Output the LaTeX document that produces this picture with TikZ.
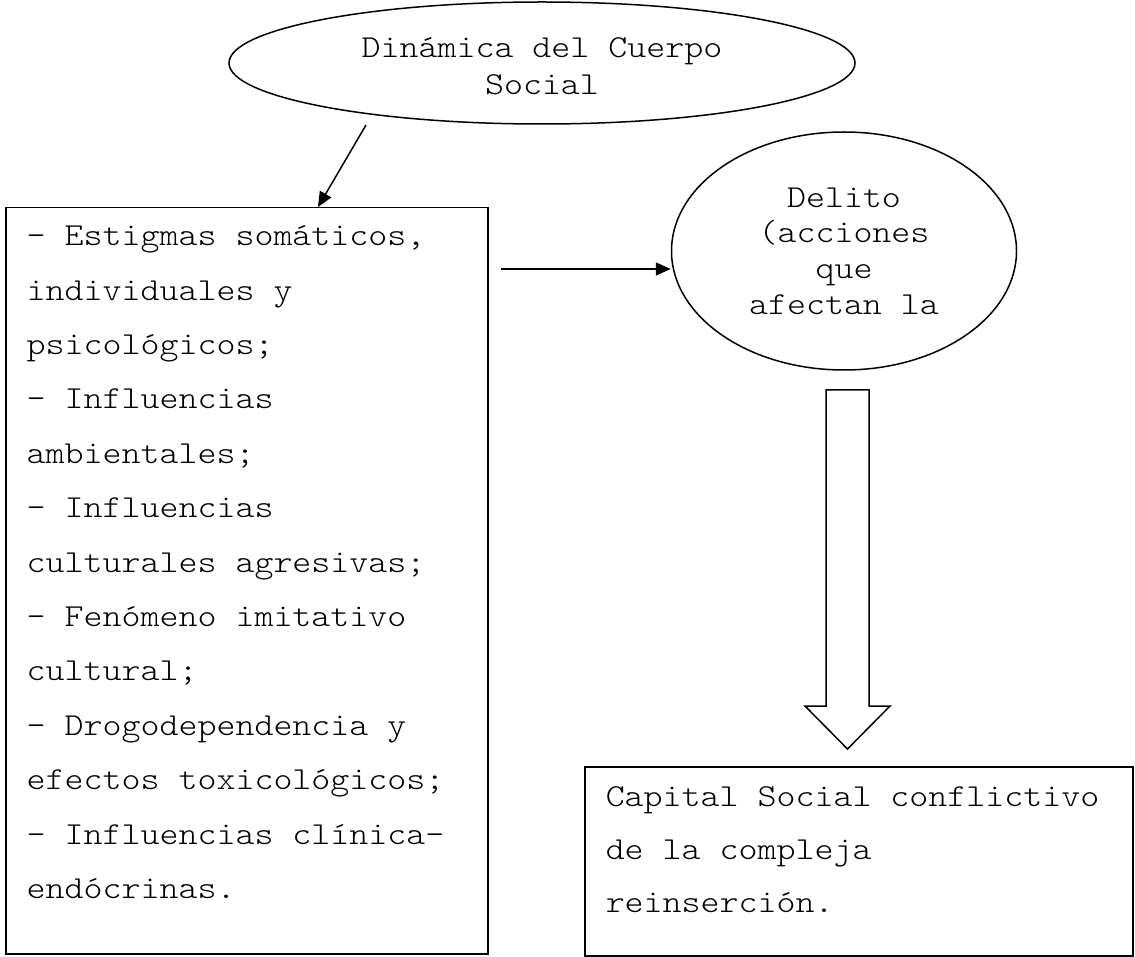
\documentclass[tikz,border=0pt]{standalone}
\usepackage{fontspec}
\newfontfamily\maquina{Latin Modern Mono Light}[FakeStretch=1.13]
\usetikzlibrary{shapes.geometric,arrows.meta}

\tikzset{
    caja/.style={draw=black,line width=1.5pt,rectangle,anchor=north west,align=flush left,inner xsep=21pt,inner ysep=12pt},
    ovalo/.style={draw=black,line width=1.5pt,ellipse,inner sep=0pt,align=center},
    flecha/.style={line width=1.5pt,-{Triangle[length=15pt,width=13pt]}}
}

\begin{document}
\begin{tikzpicture}[x=1pt,y=-1pt]
        \useasboundingbox (0,0) rectangle (1135,957);
        \node[ovalo,minimum width=626pt,minimum height=122pt,text height=72pt,text depth=8pt,font=\maquina\fontsize{32}{37}\selectfont] (cuerpo) at (542,63) {Dinámica del Cuerpo\\Social};
        \node[ovalo,minimum width=345pt,minimum height=238pt,font=\maquina\fontsize{32}{35.7}\selectfont] (delito) at (844,251) {Delito\\(acciones\\que\\afectan la};
        \node[caja,text width=440pt,text height=26pt,text depth=696pt,font=\maquina\fontsize{32}{54.4}\selectfont] (factores) at (5,207) {- Estigmas somáticos,\\individuales y\\psicológicos;\\- Influencias\\ambientales;\\- Influencias\\culturales agresivas;\\- Fenómeno imitativo\\cultural;\\- Drogodependencia y\\efectos toxicológicos;\\- Influencias clínica-\\endócrinas.};
        \node[caja,text width=506pt,text height=28pt,text depth=137pt,font=\maquina\fontsize{32}{53}\selectfont] (capital) at (584,766) {Capital Social conflictivo\\de la compleja\\reinserción.};
        \coordinate (d1) at (366,125);
        \coordinate (d2) at (318,207);
        \coordinate (h1) at (501,269);
        \path [flecha](d1) edge (d2);
        \path [flecha](h1) edge (h1 -| delito.west);
        % flecha ancha hacia el capital social
        \draw[line width=1.5pt] (826,390) -- (869,390) -- (869,706) -- (890,706) -- (847.5,749) -- (805,706) -- (826,706) -- cycle;
    \end{tikzpicture}
\end{document}
